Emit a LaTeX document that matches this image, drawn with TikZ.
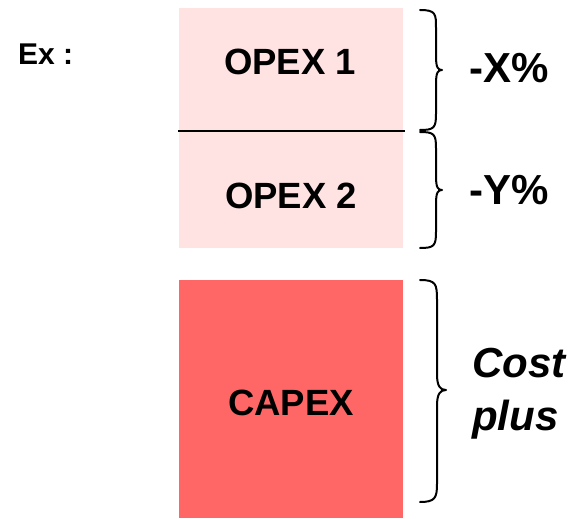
\documentclass[tikz,border=0pt]{standalone}
\usepackage{fontspec}
\setmainfont{Liberation Sans}
\definecolor{opexfill}{HTML}{FFE3E3}
\definecolor{capexfill}{HTML}{FF6666}
\begin{document}
\begin{tikzpicture}[x=1pt,y=-1pt,
  box/.style={rectangle,inner sep=0pt,minimum width=224pt},
  boxtxt/.style={anchor=base,inner sep=0pt,font=\bfseries\fontsize{36.5}{40}\selectfont},
  lbl/.style={anchor=base west,inner sep=0pt,font=\bfseries\fontsize{42}{46}\selectfont},
  ital/.style={anchor=base west,inner sep=0pt,font=\bfseries\itshape\fontsize{42}{46}\selectfont},
  bracepath/.style={line width=2pt,line cap=round,line join=round}]
\useasboundingbox (0,0) rectangle (576,519);
\node[box,fill=opexfill,minimum height=123pt] (o1) at (291,69.5) {};
\node[box,fill=opexfill,minimum height=117pt] (o2) at (291,189.5) {};
\node[box,fill=capexfill,minimum height=238pt] (cx) at (291,399) {};
\node[boxtxt] (t1) at (290,75) {OPEX 1};
\node[boxtxt] (t2) at (291,208) {OPEX 2};
\node[boxtxt] (t3) at (291,415) {CAPEX};
\coordinate (dl) at (178,131);
\coordinate (dr) at (405,131);
\draw[line width=1.6pt] (dl) -- (dr);
\node[anchor=base west,inner sep=0pt,font=\bfseries\fontsize{30}{34}\selectfont] (ex) at (18,65) {Ex :};
% braces
\draw[bracepath] (420,10) .. controls (436,10) and (436,14) .. (436,28) -- (436,56)
  .. controls (436,68) and (438,70) .. (442,70) .. controls (438,70) and (436,72) .. (436,84)
  -- (436,114) .. controls (436,128) and (434,130) .. (420,130);
\draw[bracepath] (420,132) .. controls (434,132) and (436,134) .. (436,148) -- (436,176)
  .. controls (436,188) and (438,190) .. (442,190) .. controls (438,190) and (436,192) .. (436,204)
  -- (436,232) .. controls (436,246) and (434,248) .. (420,248);
\draw[bracepath] (420,280) .. controls (436,280) and (437,284) .. (437,300) -- (437,374)
  .. controls (437,386) and (440,390) .. (446,390) .. controls (440,390) and (437,394) .. (437,406)
  -- (437,484) .. controls (437,498) and (435,502) .. (420,502);
\node[lbl] (x) at (469,82.5) {-X\%};
\node[lbl] (y) at (469,204) {-Y\%};
\node[ital] (cp1) at (472,377) {Cost};
\node[ital] (cp2) at (472,430) {plus};
\end{tikzpicture}
\end{document}
